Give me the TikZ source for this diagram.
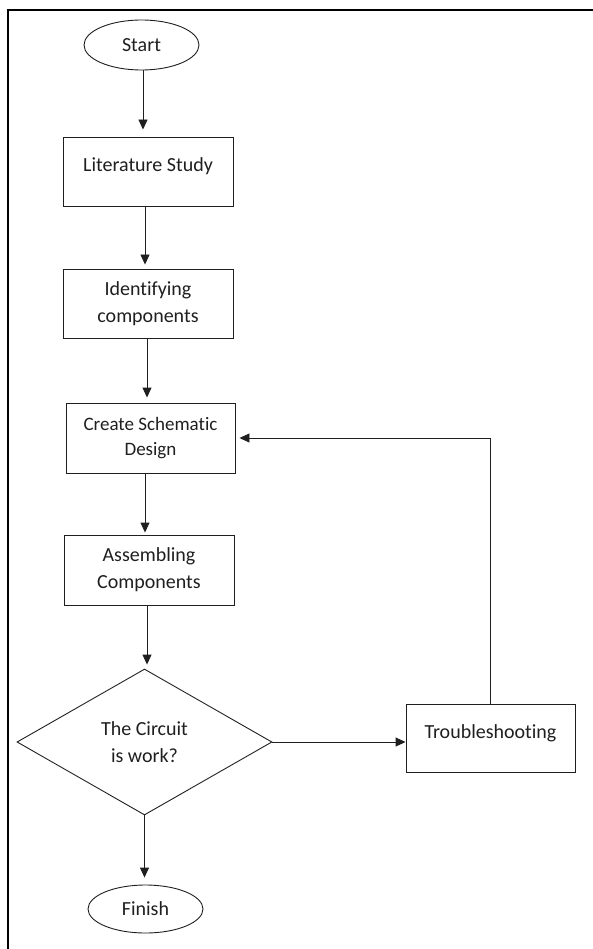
\documentclass[tikz,border=0pt]{standalone}
\usepackage{fontspec}
\setmainfont{Carlito}[Ligatures=NoCommon]
\usetikzlibrary{shapes.geometric,arrows.meta}
\definecolor{ink}{gray}{0.12}
\tikzset{
  base/.style={draw=ink, line width=0.9pt, text=ink, font=\fontsize{20}{27}\selectfont, align=center, inner sep=0pt},
  procbox/.style={base, rectangle, minimum width=170pt, minimum height=69pt},
  onebox/.style={procbox, text height=14pt, text depth=14pt},
  term/.style={base, ellipse},
  decide/.style={base, diamond, minimum width=255pt, minimum height=146pt},
  arr/.style={draw=ink, line width=0.9pt, -{Triangle[length=10pt,width=9pt]}},
  frameline/.style={draw=black, line width=2.5pt}
}
\begin{document}
\begin{tikzpicture}[x=1pt,y=-1pt]
\useasboundingbox (0,0) rectangle (592,949);
\coordinate (fa) at (8,960);
\coordinate (fb) at (8,10);
\coordinate (fc) at (600,10);
\draw[frameline] (fa) -- (fb) -- (fc);

\node[term, minimum width=115pt, minimum height=50pt] (start) at (141.5,45) {\raisebox{-3pt}{Start}};
\node[onebox] (lit) at (148,171.5) {Literature Study};
\node[procbox] (ident) at (148,303.5) {Identifying\\components};
\node[procbox, minimum width=169pt, minimum height=70pt, font=\fontsize{19}{25}\selectfont] (create) at (150.5,438) {Create Schematic\\Design};
\node[procbox, minimum height=70pt] (assem) at (149,570) {Assembling\\Components};
\node[decide] (circ) at (144.5,742) {The Circuit\\is work?};
\node[onebox, minimum width=169pt, minimum height=68pt] (trouble) at (490.5,738) {Troubleshooting};
\node[term, minimum width=115pt, minimum height=48pt] (finish) at (145.5,909) {Finish};

\draw[arr, shorten >=7pt] (start.south -| 143,0) -- (143,0 |- lit.north);
\draw[arr, shorten >=4pt] (lit.south -| 145,0) -- (145,0 |- ident.north);
\draw[arr, shorten >=5pt] (ident.south -| 147,0) -- (147,0 |- create.north);
\draw[arr, shorten >=2pt] (create.south -| 145,0) -- (145,0 |- assem.north);
\draw[arr, shorten >=4pt] (assem.south -| 147,0) -- (147,0 |- circ.north);
\draw[arr, shorten >=7pt] (circ.south) -- (circ.south |- finish.north);
\draw[arr] (circ.east) -- (circ.east -| trouble.west);
\draw[arr, shorten >=4pt] (trouble.north) |- (create.east);
\end{tikzpicture}
\end{document}
